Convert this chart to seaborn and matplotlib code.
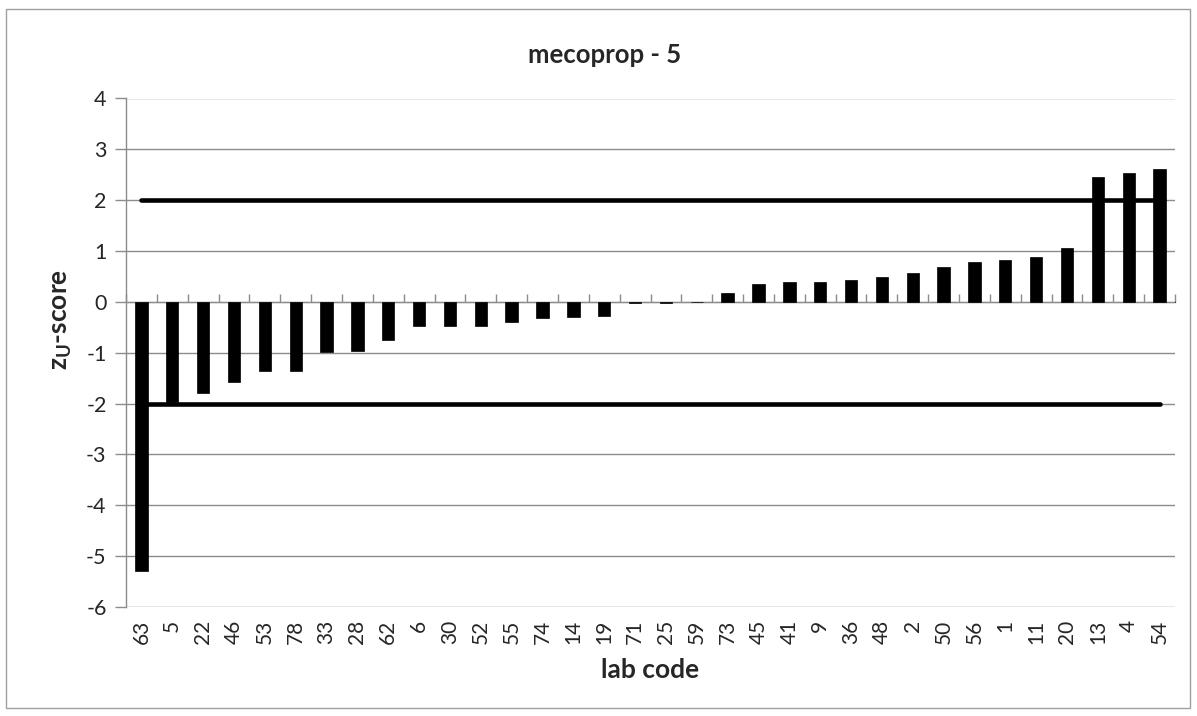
import numpy as np
import pandas as pd
import matplotlib
matplotlib.use("Agg")
import matplotlib.pyplot as plt
import seaborn as sns
from matplotlib.patches import Rectangle

# ---- data ----
lab_codes = ["63", "5", "22", "46", "53", "78", "33", "28", "62", "6", "30", "52",
             "55", "74", "14", "19", "71", "25", "59", "73", "45", "41", "9", "36",
             "48", "2", "50", "56", "1", "11", "20", "13", "4", "54"]
z_scores = [-5.29, -1.97, -1.79, -1.57, -1.36, -1.36, -0.98, -0.96, -0.74, -0.47,
            -0.47, -0.47, -0.40, -0.31, -0.30, -0.28, -0.03, -0.02, 0.0, 0.18,
            0.35, 0.39, 0.39, 0.43, 0.49, 0.57, 0.69, 0.78, 0.83, 0.89, 1.06,
            2.46, 2.53, 2.61]
upper_limit = [2] * len(lab_codes)
lower_limit = [-2] * len(lab_codes)
y_ticks = [-6, -5, -4, -3, -2, -1, 0, 1, 2, 3, 4]

sns.set_style("white")
FONT = ["Lato", "DejaVu Sans"]
plt.rcParams["font.family"] = FONT
plt.rcParams["mathtext.fontset"] = "custom"
plt.rcParams["mathtext.rm"] = "Lato:bold"
plt.rcParams["mathtext.it"] = "Lato:bold"
plt.rcParams["mathtext.bf"] = "Lato:bold"

GRID = "#8c8c8c"

fig = plt.figure(figsize=(11.97, 7.16), dpi=100)
ax = fig.add_axes([126 / 1197, 1 - 607 / 716, (1175 - 126) / 1197, (607 - 98.5) / 716])

df = pd.DataFrame({"lab": lab_codes, "z": z_scores})
sns.barplot(data=df, x="lab", y="z", order=lab_codes, color="black",
            saturation=1, width=0.4, edgecolor="black", linewidth=0.5,
            ax=ax, zorder=3)

n = len(lab_codes)
pos = np.arange(n)
sns.lineplot(x=pos, y=upper_limit, color="black", linewidth=3.3, ax=ax,
             zorder=4, solid_capstyle="round")
sns.lineplot(x=pos, y=lower_limit, color="black", linewidth=3.3, ax=ax,
             zorder=4, solid_capstyle="round")

ax.set_xlim(-0.5, n - 0.5)
ax.set_ylim(-6, 4)
ax.set_yticks(y_ticks)
ax.set_yticklabels([str(t) for t in y_ticks], fontsize=15.5)
ax.yaxis.grid(True, color=GRID, linewidth=1)
ax.set_axisbelow(True)
ax.tick_params(axis="y", which="both", left=True, length=8, width=1,
               color=GRID, pad=6)

# primary x-axis: labels only, at bottom
ax.set_xticks(pos)
ax.set_xticklabels(lab_codes, rotation=90, fontsize=15)
ax.tick_params(axis="x", bottom=False, length=0, pad=9)

for side in ["top", "right", "bottom"]:
    ax.spines[side].set_visible(False)
ax.spines["left"].set_color(GRID)
ax.spines["left"].set_linewidth(1)

# category axis line at y = 0 with tick marks between categories
sec = ax.secondary_xaxis(0.6)
sec.set_xticks(np.arange(n + 1) - 0.5)
sec.set_xticklabels([])
sec.tick_params(axis="x", direction="out", length=6, width=1, color=GRID)
sec.spines["bottom"].set_color(GRID)
sec.spines["bottom"].set_linewidth(1)

ax.set_xlabel("lab code", fontsize=19, fontweight="bold", labelpad=10)
ax.set_ylabel(r"z$_{\mathrm{U}}$-score", fontsize=19, fontweight="bold")
ax.yaxis.set_label_coords(-0.05, 0.565)
fig.text(605 / 1197, 1 - 55 / 716, "mecoprop - 5", fontsize=18.5,
         fontweight="bold", ha="center", va="center")

# chart-area border
fig.patches.append(Rectangle((6 / 1197, 1 - 708 / 716), (1190 - 6) / 1197,
                             (708 - 9) / 716, transform=fig.transFigure,
                             fill=False, edgecolor="#a0a0a0", linewidth=1))

fig.savefig("out.png", dpi=100)
